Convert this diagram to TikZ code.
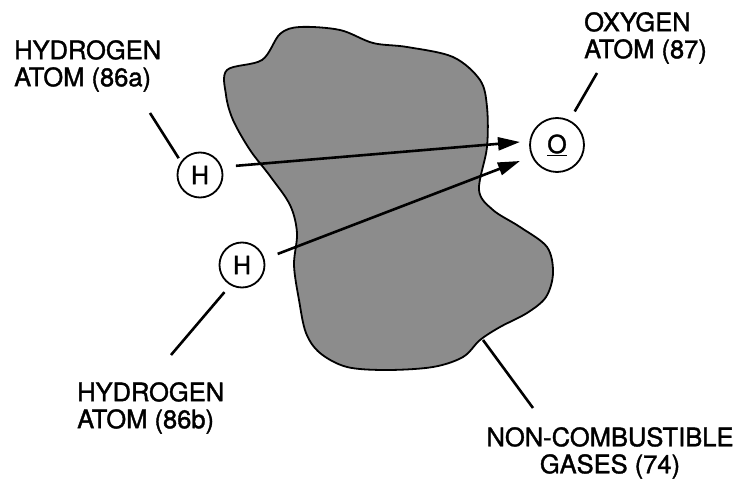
\documentclass[tikz,border=0pt]{standalone}
\usepackage{fontspec}
\setmainfont{TeX Gyre Heros}
\newfontfamily\labfont{TeX Gyre Heros}[FakeBold=1.4]
\usetikzlibrary{arrows.meta}
\definecolor{gasgray}{RGB}{140,140,140}

\begin{document}
\begin{tikzpicture}[x=1pt, y=-1pt,
  atom/.style={circle, draw, line width=1.8pt, fill=white, inner sep=0pt, font=\labfont\fontsize{25}{25}\selectfont},
  label/.style={inner sep=0pt, align=left, anchor=north west, font=\labfont\fontsize{25.5}{27}\selectfont},
  leader/.style={line width=2.6pt},
  arrowline/.style={line width=2.6pt, -{Triangle[length=22pt, width=13pt]}}]

\useasboundingbox (0,0) rectangle (739,486);

% cloud of non-combustible gases
\draw[line width=1.8pt, fill=gasgray] plot[smooth cycle, tension=0.55] coordinates {
  (227,70) (262,60) (280,34) (300,27) (340,30) (373,43) (407,47) (453,57)
  (480,80) (487,107) (487,147) (479,190) (493,210) (520,227) (547,247)
  (553,273) (546,297) (527,313) (500,327) (480,340) (463,357) (433,367)
  (387,370) (347,367) (320,353) (306,333) (299,300) (294,265) (297,233)
  (290,205) (270,176) (250,150) (233,120) (226,95)};

% atoms
\node[atom, minimum size=45pt] (ha) at (200,175) {H};
\node[atom, minimum size=45pt] (hb) at (242,265) {H};
\node[atom, minimum size=54pt] (ox) at (557,145) {\underline{O}};

\coordinate (tipa) at (520,142);
\coordinate (tipb) at (520,161);
\draw[arrowline, shorten <=14pt] (ha.20) -- (tipa);
\draw[arrowline, shorten <=14pt] (hb.15) -- (tipb);

% labels
\node[label] (laba) at (14,40) {HYDROGEN\\ATOM (86a)};
\node[label] (labb) at (77,382) {HYDROGEN\\ATOM (86b)};
\node[label] (labo) at (584,12) {OXYGEN\\ATOM (87)};
\node[label, align=center, anchor=north] (labg) at (610,427) {NON-COMBUSTIBLE\\GASES (74)};

\coordinate (enda) at (150,113);
\coordinate (endb) at (171,355);
\coordinate (endo) at (597,73);
\coordinate (gasin) at (483,340);
\coordinate (endg) at (533,408);
\draw[leader, shorten >=4pt] (enda) -- (ha.145);
\draw[leader, shorten >=9pt] (endb) -- (hb.240);
\draw[leader, shorten >=10pt] (endo) -- (ox.63);
\draw[leader] (gasin) -- (endg);

\end{tikzpicture}
\end{document}
